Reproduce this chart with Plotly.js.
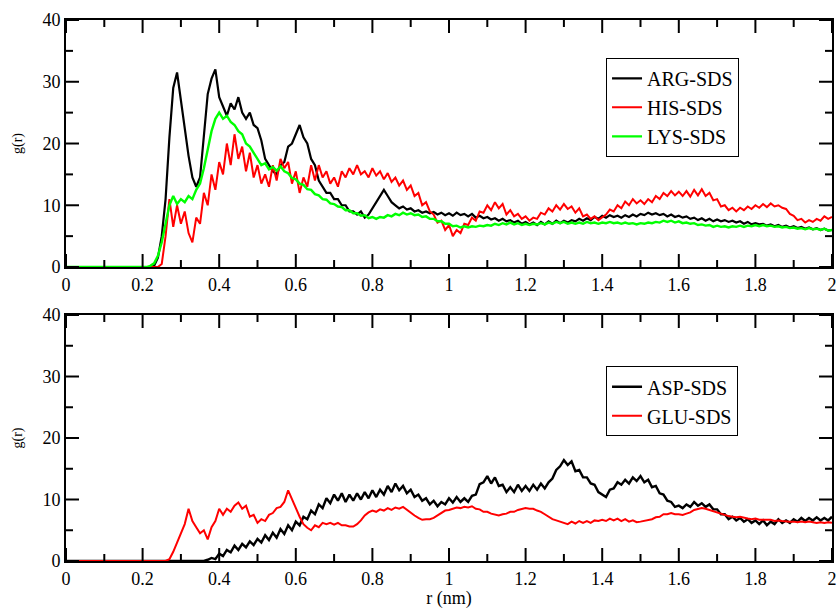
<!DOCTYPE html>
<html>
<head>
<meta charset="utf-8">
<script src="https://cdn.plot.ly/plotly-3.0.1.min.js"></script>
<style>body{margin:0;padding:0;background:#fff;}#chart{width:837px;height:609px;}</style>
</head>
<body>
<div id="chart"></div>
<script>
// r grid: 0 to 2 nm, step 0.01 (201 points per series)
const rStart = 0;
const rStep = 0.01;

const argSDS = [
0,0,0,0,0,0,0,0,0,0,
0,0,0,0,0,0,0,0,0,0,
0,0,0,0.2,1.5,5,11,21,29,31.5,
27,23,18,14.5,13,14.5,21,28,30.5,32,
27.5,26,24.5,26.5,25.5,27.5,25,24,25,23,
22.5,20.5,17.5,16.5,15.5,15,16.5,17,19.5,20,
21.5,23,21,20,17.5,16.5,14,13,12,12,
11,11,10,10,9,9,8.5,9,8,8.5,
9.5,10.5,11.5,12.5,11.5,10.5,10,9.5,9.8,9.3,
9.5,9,9.2,8.8,9,8.7,8.9,8.5,8.8,8.4,
8.7,8.3,8.8,8.4,8.6,8.2,8.6,8,8.3,7.9,
8.1,7.7,7.9,7.5,7.8,7.4,7.6,7.2,7.5,7.0,
7.3,6.9,7.2,6.8,7.3,6.9,7.4,7.0,7.5,7.1,
7.5,7.2,7.6,7.4,7.8,7.5,7.9,7.6,8.1,7.8,
8.3,8.0,8.4,8.1,8.3,8.0,8.4,8.1,8.5,8.2,
8.6,8.4,8.8,8.5,8.7,8.4,8.6,8.2,8.5,8.1,
8.3,8.0,8.2,7.8,8.0,7.6,7.9,7.5,7.8,7.4,
7.7,7.4,7.6,7.3,7.5,7.2,7.4,7.0,7.3,6.9,
7.1,6.9,7.0,6.7,6.9,6.6,6.8,6.5,6.7,6.4,
6.6,6.3,6.5,6.2,6.4,6.1,6.3,6.0,6.2,5.9,
6.0];

const hisSDS = [
0,0,0,0,0,0,0,0,0,0,
0,0,0,0,0,0,0,0,0,0,
0,0,0,0,0,0.5,5,11,6.5,10,
7,9,5.5,4,8,7,12,10,15,12.5,
17,15,20,16.5,21.5,17.5,19.5,15.5,18.5,14.5,
16.5,13.5,15,13,16.5,14,17.5,16,17,13.5,
15.5,12,14.5,13,16.5,14,16.5,14.5,15.5,13.5,
14.5,13,15.5,14.5,16,15,16.5,15,15.5,14.5,
16,14.8,15.5,14.2,15.2,13.8,14.5,13.2,14,12.5,
13.2,11.5,12,10,10.5,9,8.5,7.2,7.5,6,
6.8,5,6,5.5,7,6.8,8,7.5,9,8.8,
10,9.2,10.5,9.5,10.2,8.5,9.2,8.2,8.6,7.8,
8.2,7.5,8.0,7.8,8.8,8.5,9.5,9,10,9.3,
10.2,9.4,9.8,8.8,9.5,8.2,8.5,7.8,8.2,7.6,
8,8.5,9.3,9.0,10,9.5,10.6,10.0,11,10.3,
10.8,10.2,11,10.5,11.5,11,12,11.5,12.3,11.6,
12.2,11.5,12.3,11.4,12.5,11.6,12.6,11.5,12,10.8,
11,9.8,10,9.2,9.6,9.0,9.6,9.2,9.8,9.4,
10,9.6,10.2,9.7,10.3,9.8,10,9.6,9.4,8.6,
8.3,7.6,7.8,7.2,7.6,7.3,7.8,7.5,8.2,7.8,
8.1];

const lysSDS = [
0,0,0,0,0,0,0,0,0,0,
0,0,0,0,0,0,0,0,0,0,
0,0,0.2,0.6,1.8,4,7,10,11.5,10.2,
11,10.5,11.5,11,12.5,13.5,16,19,22,24,
25,24,24.5,23.5,23,22,21.5,20,19.5,18.5,
17.5,16.5,16.8,15.8,16.2,15.6,16.3,15.5,15.2,14.4,
14.2,13.5,13.3,12.6,12.5,11.8,11.6,11.0,10.9,10.3,
10.2,9.8,9.7,9.2,9.2,8.7,8.7,8.3,8.4,7.9,
8.1,7.8,8.1,8.0,8.4,8.2,8.6,8.4,8.8,8.5,
8.7,8.4,8.5,8.1,8.2,7.8,7.8,7.4,7.4,7.0,
7.0,6.6,6.7,6.4,6.6,6.4,6.6,6.5,6.7,6.6,
6.8,6.7,7.0,6.8,7.1,6.9,7.2,6.9,7.1,6.8,
7.0,6.8,7.0,6.9,7.1,6.9,7.2,7.0,7.3,7.1,
7.3,7.0,7.2,7.0,7.2,7.0,7.3,7.1,7.2,7.0,
7.2,7.1,7.3,7.1,7.2,7.0,7.2,7.0,7.1,6.9,
7.1,7.0,7.2,7.1,7.3,7.2,7.5,7.3,7.5,7.2,
7.4,7.1,7.2,7.0,7.1,6.8,6.9,6.7,6.8,6.5,
6.7,6.5,6.6,6.4,6.6,6.5,6.7,6.5,6.7,6.6,
6.8,6.6,6.8,6.6,6.7,6.5,6.6,6.4,6.5,6.3,
6.4,6.2,6.3,6.1,6.3,6.1,6.2,6.0,6.2,5.9,
6.0];

const aspSDS = [
0,0,0,0,0,0,0,0,0,0,
0,0,0,0,0,0,0,0,0,0,
0,0,0,0,0,0,0,0,0,0,
0,0,0,0,0,0,0,0.2,0.5,0.3,
1.2,0.8,1.8,1.4,2.5,1.8,2.8,2.2,3.2,2.6,
3.6,3.0,4.2,3.4,4.6,3.8,5.2,4.4,5.8,5.0,
6.4,5.8,7.2,6.8,8.2,7.6,9.2,8.6,10.2,9.4,
10.8,9.8,11,9.6,10.8,9.8,11,10,11.2,10.2,
11.5,10.4,11.6,10.8,12.2,11.2,12.6,11.5,12.2,11,
11.6,10.4,10.8,9.8,10.2,9.2,9.8,8.9,9.6,9.2,
10.2,9.5,10.4,9.6,10.2,9.6,10.6,10.8,12.5,12.8,
13.8,12.6,13.6,12.2,12.4,11.2,12.0,11.2,12.4,11.4,
12.2,11.4,12.4,11.6,12.6,11.8,12.8,13.4,14.8,15.4,
16.4,15.6,16.2,14.6,14.8,13.6,13.6,12.6,12.4,11.2,
10.8,10.4,11.6,11.8,12.8,12.4,13.2,12.6,13.6,13.0,
13.8,12.8,13.2,12.0,12.2,11.0,10.8,9.8,9.6,8.8,
9.0,8.6,9.2,8.8,9.6,9.0,9.4,8.8,9.2,8.4,
8.4,7.6,7.6,6.8,7.2,6.6,7.0,6.4,6.8,6.2,
6.6,6.0,6.6,5.8,6.4,6.0,6.8,6.2,6.6,6.2,
6.8,6.4,7.0,6.5,7.0,6.6,7.1,6.6,7.0,6.6,
7.2];

const gluSDS = [
0,0,0,0,0,0,0,0,0,0,
0,0,0,0,0,0,0,0,0,0,
0,0,0,0,0,0,0,0.3,1.5,3,
4.5,6,8.5,6.5,5.5,4.5,5,3.5,5.5,6.5,
8.5,7.5,8.5,8,9,9.5,8.5,9,7.2,7.5,
6.2,6.8,6.5,7.5,7.8,8.6,8.8,9.6,11.5,10,
8.8,7.2,6,5.4,5,5.8,5.5,6.2,6.0,6.2,
5.9,6.2,5.8,5.8,5.6,5.6,6.0,6.6,7.4,7.9,
8.2,8.0,8.4,8.2,8.6,8.3,8.7,8.5,8.8,8.3,
7.9,7.4,7.0,6.7,6.8,6.8,7.0,7.4,7.8,8.2,
8.3,8.5,8.7,8.6,8.8,8.7,8.9,8.5,8.4,8.0,
8.0,7.7,7.6,7.4,7.6,7.7,8.0,8.0,8.3,8.4,
8.6,8.5,8.5,8.2,8.0,7.6,7.2,6.8,6.6,6.4,
6.3,6.0,6.4,6.1,6.5,6.2,6.5,6.2,6.6,6.5,
6.7,6.5,6.9,6.6,6.9,6.5,6.8,6.4,6.6,6.3,
6.4,6.5,6.7,6.8,7.1,7.2,7.6,7.6,7.8,7.6,
7.6,7.5,7.7,7.9,8.3,8.5,8.6,8.5,8.3,8.0,
7.8,7.6,7.5,7.3,7.2,7.1,7.2,7.0,6.9,6.8,
6.9,6.7,6.7,6.6,6.7,6.5,6.6,6.5,6.4,6.4,
6.4,6.3,6.4,6.3,6.4,6.3,6.2,6.3,6.2,6.3,
6.2];

const topNames = ['ARG-SDS', 'HIS-SDS', 'LYS-SDS'];
const bottomNames = ['ASP-SDS', 'GLU-SDS'];
const xTickVals = [0, 0.2, 0.4, 0.6, 0.8, 1, 1.2, 1.4, 1.6, 1.8, 2];
const xTickText = ['0', '0.2', '0.4', '0.6', '0.8', '1', '1.2', '1.4', '1.6', '1.8', '2'];
const xMinorVals = [0.1, 0.3, 0.5, 0.7, 0.9, 1.1, 1.3, 1.5, 1.7, 1.9];
const yTickVals = [0, 10, 20, 30, 40];
const yTickText = ['0', '10', '20', '30', '40'];
const yMinorVals = [5, 15, 25, 35];

const FONT = 'Liberation Serif';
const W = 837, H = 609;
const MARGIN = {l: 66, r: 5, t: 20, b: 48};
const TOP_DOMAIN = [0.5434, 1];
const BOTTOM_DOMAIN = [0, 0.4547];
const MAJOR_PX = 13, MINOR_PX = 7;

const X_MIN = xTickVals[0], X_MAX = xTickVals[xTickVals.length - 1];
const Y_MIN = yTickVals[0], Y_MAX = yTickVals[yTickVals.length - 1];

function tr(y, name, color, xa, ya, leg, w) {
  return {
    type: 'scatter', mode: 'lines', x0: rStart, dx: rStep, y: y, name: name,
    xaxis: xa, yaxis: ya, legend: leg,
    line: {color: color, width: w}
  };
}

// inward tick marks on all four sides, drawn in each subplot's own axis units
function tickTrace(xa, ya, domain) {
  const plotW = W - MARGIN.l - MARGIN.r;
  const plotH = (H - MARGIN.t - MARGIN.b) * (domain[1] - domain[0]);
  const xu = (X_MAX - X_MIN) / plotW;
  const yu = (Y_MAX - Y_MIN) / plotH;
  const xs = [], ys = [];
  function xt(v, px) {
    xs.push(v, v, null, v, v, null);
    ys.push(Y_MIN, Y_MIN + px * yu, null, Y_MAX, Y_MAX - px * yu, null);
  }
  function yt(v, px) {
    xs.push(X_MIN, X_MIN + px * xu, null, X_MAX, X_MAX - px * xu, null);
    ys.push(v, v, null, v, v, null);
  }
  xTickVals.forEach(function (v) { xt(v, MAJOR_PX); });
  xMinorVals.forEach(function (v) { xt(v, MINOR_PX); });
  yTickVals.forEach(function (v) { yt(v, MAJOR_PX); });
  yMinorVals.forEach(function (v) { yt(v, MINOR_PX); });
  return {
    type: 'scatter', mode: 'lines', x: xs, y: ys, xaxis: xa, yaxis: ya,
    connectgaps: false, showlegend: false, hoverinfo: 'skip', cliponaxis: false,
    line: {color: '#000000', width: 2}
  };
}

const data = [
  tr(argSDS, topNames[0], '#000000', 'x', 'y', 'legend', 2.2),
  tr(hisSDS, topNames[1], '#ff0000', 'x', 'y', 'legend', 2),
  tr(lysSDS, topNames[2], '#00ff00', 'x', 'y', 'legend', 2.4),
  tr(aspSDS, bottomNames[0], '#000000', 'x2', 'y2', 'legend2', 2.4),
  tr(gluSDS, bottomNames[1], '#ff0000', 'x2', 'y2', 'legend2', 2),
  tickTrace('x', 'y', TOP_DOMAIN),
  tickTrace('x2', 'y2', BOTTOM_DOMAIN)
];

function xAxis(anchor, title) {
  const a = {
    anchor: anchor, range: [X_MIN, X_MAX],
    tickmode: 'array', tickvals: xTickVals, ticktext: xTickText, ticks: '',
    showline: true, linewidth: 2, linecolor: '#000000', mirror: true,
    showgrid: false, zeroline: false,
    tickfont: {family: FONT, size: 18, color: '#000000'}
  };
  if (title) a.title = {text: title, font: {family: FONT, size: 18, color: '#000000'}, standoff: 3};
  return a;
}
function yAxis(anchor, domain) {
  return {
    anchor: anchor, domain: domain, range: [Y_MIN, Y_MAX],
    tickmode: 'array', tickvals: yTickVals, ticktext: yTickText, ticks: '',
    showline: true, linewidth: 2, linecolor: '#000000', mirror: true,
    showgrid: false, zeroline: false,
    tickfont: {family: FONT, size: 18, color: '#000000'},
    title: {text: 'g(r)', font: {family: FONT, size: 14, color: '#000000'}, standoff: 16}
  };
}

const legendBase = {
  bgcolor: '#ffffff', bordercolor: '#000000', borderwidth: 1,
  font: {family: FONT, size: 20, color: '#000000'},
  xanchor: 'left', yanchor: 'top', tracegroupgap: 0
};

const layout = {
  width: W, height: H,
  margin: MARGIN,
  paper_bgcolor: '#ffffff', plot_bgcolor: '#ffffff',
  showlegend: true,
  xaxis: xAxis('y', null),
  yaxis: yAxis('x', TOP_DOMAIN),
  xaxis2: xAxis('y2', 'r (nm)'),
  yaxis2: yAxis('x2', BOTTOM_DOMAIN),
  legend: Object.assign({x: 0.705, y: 0.93}, legendBase),
  legend2: Object.assign({x: 0.705, y: 0.36}, legendBase)
};

Plotly.newPlot('chart', data, layout, {displayModeBar: false});
</script>
</body>
</html>
